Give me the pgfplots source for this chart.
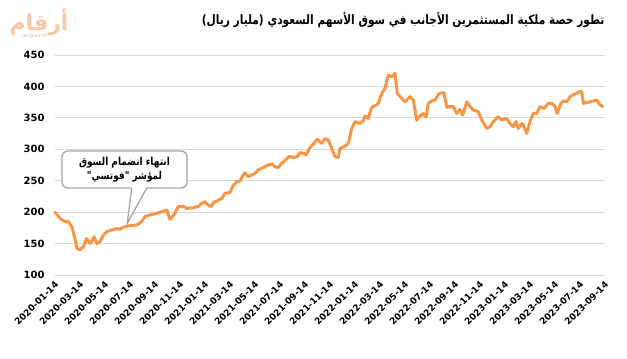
\documentclass[border=0pt]{standalone}
\usepackage{fontspec}
\usepackage{pgfplots}
\pgfplotsset{compat=1.18}
\setmainfont{DejaVu Sans}
\newfontfamily\arabicfont[Script=Arabic]{DejaVu Sans}
\newfontfamily\arabicnarrow[Script=Arabic,FakeStretch=0.82]{DejaVu Sans}
\TeXXeTstate=1
\definecolor{lineorange}{RGB}{247,150,70}
\definecolor{gridgray}{RGB}{217,217,217}
\definecolor{logopeach}{RGB}{248,200,168}
\definecolor{boxgray}{RGB}{166,166,166}

\begin{document}
\begin{tikzpicture}[x=1bp,y=1bp]
\path[use as bounding box] (0,0) rectangle (627,358);
\begin{axis}[
  at={(55bp,83bp)}, anchor=south west,
  scale only axis, width=550bp, height=220bp,
  xmin=0, xmax=44, ymin=100, ymax=450,
  xtick={0,2,...,44},
  xticklabels={2020-01-14,2020-03-14,2020-05-14,2020-07-14,2020-09-14,2020-11-14,2021-01-14,2021-03-14,2021-05-14,2021-07-14,2021-09-14,2021-11-14,2022-01-14,2022-03-14,2022-05-14,2022-07-14,2022-09-14,2022-11-14,2023-01-14,2023-03-14,2023-05-14,2023-07-14,2023-09-14},
  ytick={100,150,...,450},
  ymajorgrids, grid style={gridgray, line width=1bp},
  axis line style={draw=none},
  major tick length=0pt,
  /pgf/number format/assume math mode=true,
  yticklabel style={font=\bfseries\fontsize{10}{12}\selectfont, xshift=-7bp},
  xticklabel style={rotate=45, anchor=north east, xshift=-1bp, font=\bfseries\fontsize{9}{11}\selectfont},
  clip=false,
]
\addplot[lineorange, line width=3bp, line join=round, line cap=round] table {
x y
0 200
0.4 190
0.8 185
1.06 185
1.34 177
1.6 158
1.74 142.5
2.0 140
2.26 145
2.54 158
2.8 150
2.94 153
3.12 161
3.34 150
3.6 153
3.86 163
4.14 169
4.54 171.6
4.94 174
5.2 172.6
5.46 176
5.86 178
6.54 179.5
6.94 185
7.2 193
7.6 195.6
8.14 198
8.54 200.7
8.94 203.4
9.2 188.6
9.6 198
9.86 209
10.26 209
10.54 206
11.06 207
11.46 209
11.74 214
12.0 216.6
12.26 211
12.54 209
12.66 215
13.06 219
13.34 222
13.6 230
14.0 231
14.26 243
14.54 248.4
14.8 249.5
15.06 259
15.2 262.7
15.46 256.5
15.74 259
16.0 261.8
16.26 267
16.66 271
17.06 275
17.34 276.6
17.6 272
17.86 271
18.14 277.7
18.4 282
18.74 289
19.06 287
19.34 288
19.6 294.6
19.86 293.6
20.08 291
20.4 303
20.66 308
20.98 316
21.34 309.5
21.6 317
21.86 314.8
22.14 301.5
22.4 288
22.66 287
22.8 301.5
23.2 305
23.46 309.5
23.74 333
24.0 344
24.4 341
24.66 345.5
24.8 353
25.06 349
25.34 366.8
25.74 370.5
25.86 373
26.14 389
26.4 397
26.66 418
26.94 415.5
27.2 421
27.38 389
27.74 381
28.0 375.7
28.4 383.7
28.66 378.4
28.94 346.6
29.2 353
29.46 357
29.68 351
29.86 373
30.14 377
30.4 378.4
30.74 389
31.12 390
31.34 366.8
31.6 368
31.86 368
32.14 357
32.4 363.6
32.62 354.5
32.94 375.7
33.2 368
33.46 362.5
33.86 359.8
34.14 346.6
34.54 333.4
34.8 336
35.06 344
35.46 351.8
35.74 346.6
36.14 349
36.4 341
36.66 336
36.88 344
37.06 333.4
37.34 341
37.46 338.6
37.74 325.4
38.0 344
38.26 357
38.54 357
38.8 368
39.12 365
39.46 373
39.74 373
40.0 368
40.18 357
40.46 373
40.66 377
40.94 375.7
41.2 383.7
41.6 388
42.0 391.7
42.14 391.7
42.26 373
42.66 374.8
43.06 377
43.34 378.4
43.6 370.5
43.82 368
};
% callout box
\draw[boxgray, line width=1.3bp, fill=white, rounded corners=6bp] (axis cs:0.56,238.4) rectangle (axis cs:10.56,297.3);
\fill[white] (axis cs:6.14,240.5) -- (axis cs:5.78,182.2) -- (axis cs:7.34,240.5) -- cycle;
\draw[boxgray, line width=1.3bp, line join=miter] (axis cs:6.14,238.4) -- (axis cs:5.78,182.2) -- (axis cs:7.34,238.4);
\node[align=center, font=\arabicnarrow\bfseries\fontsize{11}{14}\selectfont] at (axis cs:5.56,268) {\beginR انتهاء انضمام السوق\endR\\\beginR لمؤشر "فوتسي"\endR};
\end{axis}
\node[anchor=east, font=\arabicnarrow\bfseries\fontsize{13}{16}\selectfont] at (608,338) {\beginR تطور حصة ملكية المستثمرين الأجانب في سوق الأسهم السعودي (مليار ريال)\endR};
\node[font=\arabicfont\bfseries\fontsize{22}{22}\selectfont, text=logopeach] at (39,336) {\beginR أرقام\endR};
\node[font=\fontsize{5}{5}\selectfont, text=logopeach!70!gray] at (35,321) {a\,r\,g\,a\,a\,m};
\end{tikzpicture}
\end{document}
